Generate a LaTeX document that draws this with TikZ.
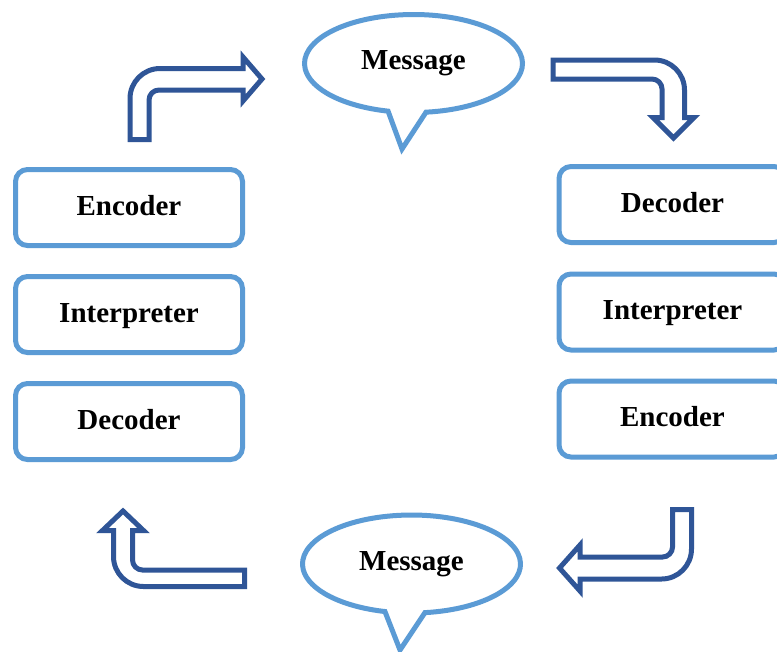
\documentclass[tikz,border=0pt]{standalone}
\usepackage{fontspec}
\setmainfont{Liberation Serif}
\definecolor{boxblue}{RGB}{91,155,213}
\definecolor{arrowblue}{RGB}{47,85,151}
\tikzset{
  stagebox/.style={draw=boxblue, line width=3.75pt, rounded corners=9pt,
    fill=white, minimum width=170.25pt, minimum height=57pt,
    text height=14.4pt, text depth=3pt, inner sep=0pt,
    font=\fontsize{21.75pt}{26pt}\selectfont\bfseries},
  bubble/.style={draw=boxblue, line width=3.75pt, fill=white, line join=miter},
  bubbletext/.style={inner sep=0pt, font=\fontsize{21.75pt}{26pt}\selectfont\bfseries},
  bentarrow/.style={draw=arrowblue, line width=3.75pt, fill=white, line join=miter},
}
\begin{document}
\begin{tikzpicture}[x=0.75pt, y=-0.75pt]
\clip (0,0) rectangle (777,651);
\fill[white] (0,0) rectangle (777,651);

% left column: sender
\node[stagebox] (encL) at (129,207.5) {Encoder};
\node[stagebox] (intL) at (129,314.5) {Interpreter};
\node[stagebox] (decL) at (129,421.5) {Decoder};

% right column: receiver
\node[stagebox] (decR) at (672.5,204.5) {Decoder};
\node[stagebox] (intR) at (672.5,312) {Interpreter};
\node[stagebox] (encR) at (672.5,419) {Encoder};

% speech bubbles
\coordinate (msgTopC) at (413.5,63.5);
\coordinate (msgTopTip) at (402,149);
\draw[bubble] (msgTopC) ++(83.4:109 and 49)
  arc[start angle=83.4, end angle=-256.5, x radius=109, y radius=49]
  -- (msgTopTip) -- cycle;
\node[bubbletext] (msgTop) at (413.5,63.5) {Message};

\coordinate (msgBotC) at (411.5,564);
\coordinate (msgBotTip) at (400,650);
\draw[bubble] (msgBotC) ++(82.9:109 and 49)
  arc[start angle=82.9, end angle=-255.9, x radius=109, y radius=49]
  -- (msgBotTip) -- cycle;
\node[bubbletext] (msgBot) at (411.5,564) {Message};

% bent arrows around the cycle
\draw[bentarrow] (130,139.5) -- (130,98.5)
  arc[start angle=180, end angle=270, radius=30]
  -- (243,68.5) -- (243,57) -- (262,79) -- (243,101) -- (243,90) -- (159,90)
  arc[start angle=270, end angle=180, radius=10]
  -- (149,139.5) -- cycle;

\draw[bentarrow] (553,60) -- (654.5,60)
  arc[start angle=-90, end angle=0, radius=30]
  -- (684.5,117.5) -- (694,117.5) -- (673.5,138) -- (653,117.5) -- (662,117.5)
  -- (662,89) arc[start angle=0, end angle=-90, radius=10]
  -- (553,79) -- cycle;

\draw[bentarrow] (672.5,509.5) -- (691.5,509.5) -- (691.5,549)
  arc[start angle=0, end angle=90, radius=30]
  -- (580,579) -- (580,591) -- (559.5,568) -- (580,545) -- (580,557) -- (662.5,557)
  arc[start angle=90, end angle=0, radius=10]
  -- cycle;

\draw[bentarrow] (244.5,570) -- (244.5,586.5) -- (143.5,586.5)
  arc[start angle=90, end angle=180, radius=30]
  -- (113.5,530.5) -- (102.5,530.5) -- (123,511) -- (143.5,530.5) -- (132.5,530.5)
  -- (132.5,560) arc[start angle=180, end angle=90, radius=10]
  -- cycle;
\end{tikzpicture}
\end{document}
